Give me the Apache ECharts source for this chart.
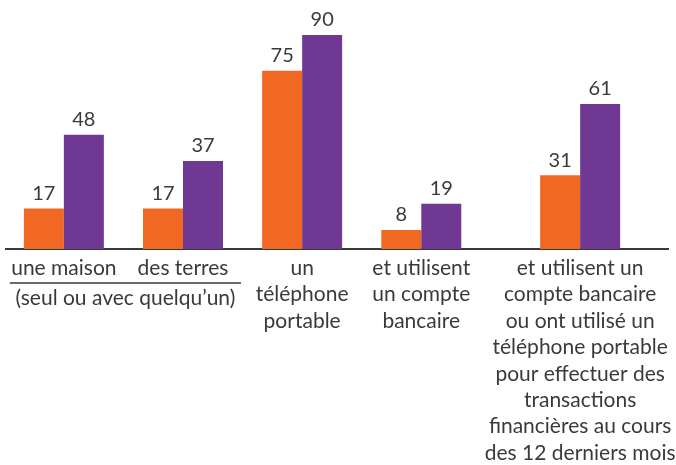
<!DOCTYPE html>
<html>
<head>
<meta charset="utf-8">
<script src="https://cdn.jsdelivr.net/npm/echarts@6/dist/echarts.min.js"></script>
<style>
html, body { margin: 0; padding: 0; background: #fff; }
#chart { width: 676px; height: 465px; }
</style>
</head>
<body>
<div id="chart"></div>
<script>
var categories = [
    'une maison',
    'des terres',
    'un\ntéléphone\nportable',
    'et utilisent\nun compte\nbancaire',
    'et utilisent un\ncompte bancaire\nou ont utilisé un\ntéléphone portable\npour effectuer des\ntransactions\nfinancières au cours\ndes 12 derniers mois'
];
var orangeValues = [17, 17, 75, 8, 31];
var purpleValues = [48, 37, 90, 19, 61];
var bracketLabel = '(seul ou avec quelqu’un)';

// layout: which slot of the axis each group sits on (last group is pushed right)
var slotOf = [0, 3, 6, 9, 13];
var slotCount = 14;

var FONT = 'Lato';
var TEXT = '#3a3a3a';

var slotNames = [], orangeSlots = [], purpleSlots = [];
for (var i = 0; i < slotCount; i++) {
    slotNames.push('');
    orangeSlots.push('-');
    purpleSlots.push('-');
}
slotOf.forEach(function (s, k) {
    slotNames[s] = categories[k];
    orangeSlots[s] = orangeValues[k];
    purpleSlots[s] = purpleValues[k];
});

var chart = echarts.init(document.getElementById('chart'));

var valueLabel = {
    show: true,
    position: 'top',
    distance: 5,
    fontFamily: FONT,
    fontSize: 20,
    color: TEXT
};

var option = {
    animation: false,
    grid: { left: 44, right: 76, top: 35, bottom: 216, outerBoundsMode: 'none', containLabel: false },
    xAxis: {
        type: 'category',
        data: slotNames,
        axisLine: { show: false },
        axisTick: { show: false },
        axisLabel: {
            interval: 0,
            margin: 6,
            fontFamily: FONT,
            fontSize: 21,
            lineHeight: 26.4,
            color: TEXT,
            align: 'center'
        }
    },
    yAxis: {
        type: 'value',
        min: 0,
        max: 90,
        show: false
    },
    series: [
        {
            type: 'bar',
            data: orangeSlots,
            barWidth: 40,
            barGap: '0%',
            clip: false,
            itemStyle: { color: '#f16823' },
            label: valueLabel
        },
        {
            type: 'bar',
            data: purpleSlots,
            barWidth: 40,
            clip: false,
            itemStyle: { color: '#6f3993' },
            label: valueLabel
        }
    ]
};
chart.setOption(option);

// baseline and the bracket under the first two groups
var y0 = chart.convertToPixel({ yAxisIndex: 0 }, 0);
var c1 = chart.convertToPixel({ xAxisIndex: 0 }, slotOf[0]);
var c2 = chart.convertToPixel({ xAxisIndex: 0 }, slotOf[1]);
var bx1 = c1 - 54, bx2 = c2 + 58;
chart.setOption({
    graphic: [
        {
            type: 'line',
            shape: { x1: 5, y1: y0, x2: 669, y2: y0 },
            style: { stroke: '#3a3a3a', lineWidth: 2 }
        },
        {
            type: 'line',
            shape: { x1: bx1, y1: y0 + 34, x2: bx2, y2: y0 + 34 },
            style: { stroke: '#3a3a3a', lineWidth: 1.5 }
        },
        {
            type: 'text',
            x: (bx1 + bx2) / 2,
            y: y0 + 49,
            style: {
                text: bracketLabel,
                font: '21px ' + FONT,
                fill: TEXT,
                align: 'center',
                verticalAlign: 'middle'
            }
        }
    ]
});
</script>
</body>
</html>
